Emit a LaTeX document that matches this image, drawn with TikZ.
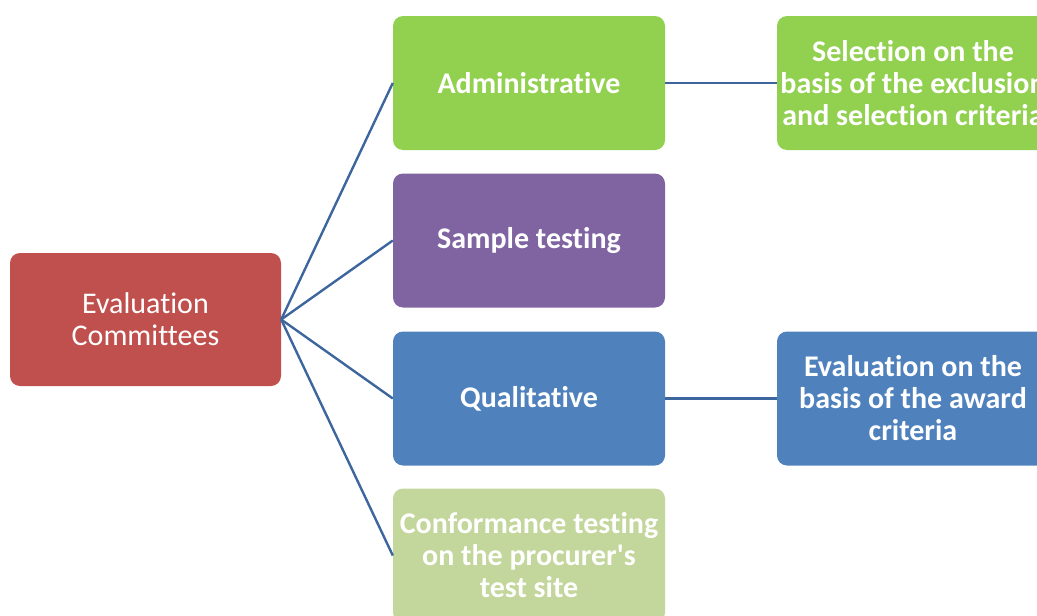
\documentclass[tikz,border=0pt]{standalone}
\usepackage{fontspec}
\setmainfont{Carlito}[Ligatures={NoCommon}]
\definecolor{cred}{RGB}{192,80,77}
\definecolor{cgreen}{RGB}{146,208,80}
\definecolor{cpurple}{RGB}{128,100,162}
\definecolor{cblue}{RGB}{79,129,189}
\definecolor{clight}{RGB}{195,214,155}
\definecolor{cline}{RGB}{62,102,158}
\tikzset{
  box/.style={rounded corners=10pt, minimum width=272pt, minimum height=134pt,
    inner sep=2pt, text=white, align=center, font=\fontsize{30}{32}\selectfont},
  bbox/.style={box, font=\fontsize{30}{32}\selectfont\bfseries},
  conn/.style={draw=cline, line width=2.4pt},
}
\begin{document}
\begin{tikzpicture}[x=1pt,y=-1pt]
\useasboundingbox (0,0) rectangle (1037,616);
\clip (0,0) rectangle (1037,616);
\node[box, fill=cred, minimum width=271pt, minimum height=133pt] (ec) at (145.5,319.5) {Evaluation\\Committees};
\node[bbox, fill=cgreen] (adm) at (529,83) {Administrative};
\node[bbox, fill=cpurple] (sam) at (529,240.5) {Sample testing};
\node[bbox, fill=cblue] (qual) at (529,398.5) {Qualitative};
\node[bbox, fill=clight] (conf) at (529,555.5) {Conformance testing\\on the procurer\textquotesingle s\\test site};
\node[bbox, fill=cgreen] (sel) at (913,83) {Selection on the\\basis of the exclusion\\and selection criteria};
\node[bbox, fill=cblue] (eva) at (913,398.5) {Evaluation on the\\basis of the award\\criteria};
\draw[conn] (ec.east) -- (adm.west);
\draw[conn] (ec.east) -- (sam.west);
\draw[conn] (ec.east) -- (qual.west);
\draw[conn] (ec.east) -- (conf.west);
\draw[conn] (adm.east) -- (sel.west);
\draw[conn] (qual.east) -- (eva.west);
\end{tikzpicture}
\end{document}
